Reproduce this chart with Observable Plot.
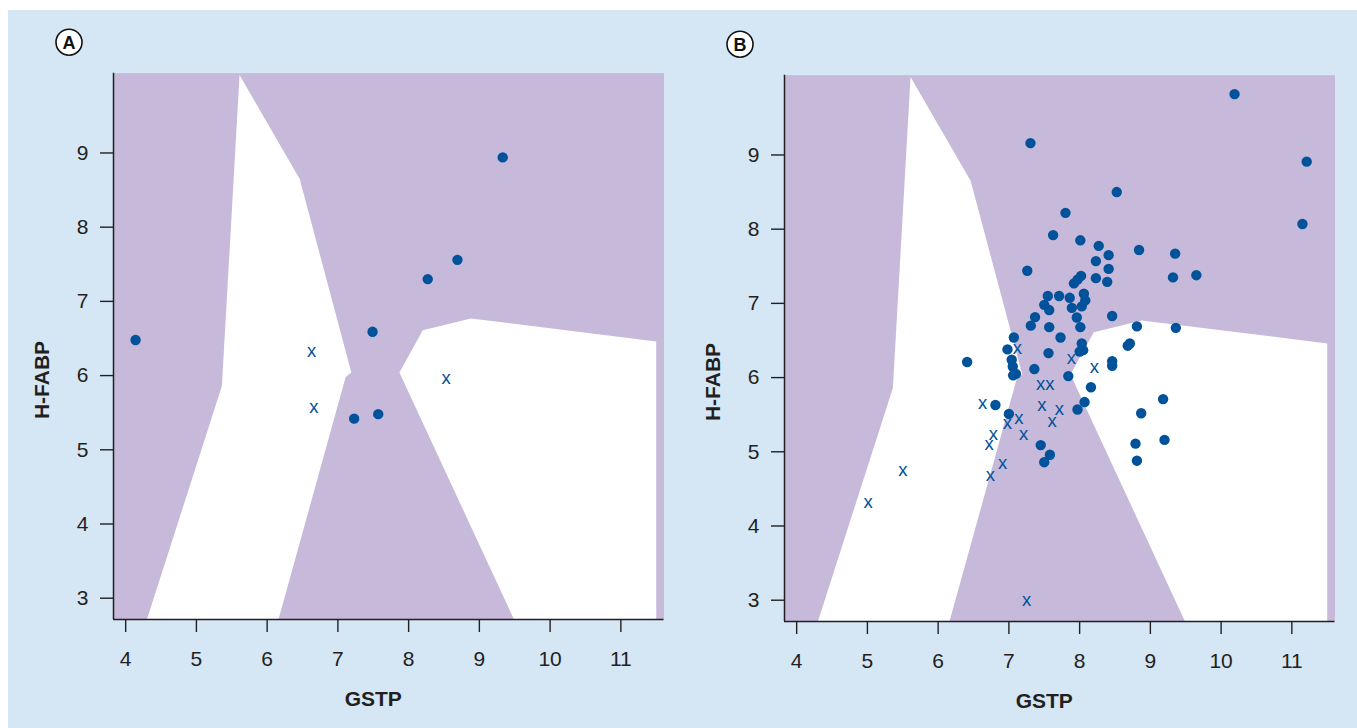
<!DOCTYPE html>
<html>
<head>
<meta charset="utf-8">
<script src="https://cdn.jsdelivr.net/npm/d3@7"></script>
<script src="https://cdn.jsdelivr.net/npm/@observablehq/plot@0.6"></script>
<style>
  html, body { margin: 0; padding: 0; background: #ffffff; }
  #wrap { position: relative; width: 1357px; height: 728px; overflow: hidden; }
  #bg { position: absolute; left: 8px; top: 10px; right: 0; bottom: 0; background: #d5e6f5; }
  #panelA { position: absolute; left: 0px; top: 0px; }
  #panelB { position: absolute; left: 670.6px; top: 2.3px; }
</style>
</head>
<body>
<div id="wrap">
  <div id="bg"></div>
  <div id="panelA"></div>
  <div id="panelB"></div>
</div>
<script>
// ---------- data ----------
const xTicks = [4, 5, 6, 7, 8, 9, 10, 11];
const yTicks = [3, 4, 5, 6, 7, 8, 9];
const xDomain = [3.828, 11.61];
const yDomain = [2.713, 10.075];

// decision-boundary regions (white) inside purple background
const leftRegionX  = [5.61, 6.46, 7.19, 7.11, 6.16, 4.30, 5.36];
const leftRegionY  = [10.05, 8.65, 6.04, 5.98, 2.713, 2.713, 5.86];
const rightRegionX = [8.20, 8.88, 11.50, 11.50, 9.49, 7.87];
const rightRegionY = [6.61, 6.77, 6.46, 2.713, 2.713, 6.04];

// Panel A
const dotsAX  = [4.14, 7.49, 8.27, 8.69, 9.33, 7.23, 7.57];
const dotsAY  = [6.48, 6.59, 7.30, 7.56, 8.94, 5.42, 5.48];
const crossAX = [6.63, 6.66, 8.53];
const crossAY = [6.33, 5.58, 5.96];

// Panel B
const dotsBX = [7.305, 11.21, 8.525, 7.80, 7.625, 8.01, 11.15, 8.27, 8.84, 9.35,
                8.41, 8.23, 7.26, 8.41, 9.32, 9.65, 8.23, 8.39, 8.02, 7.97,
                7.92, 7.55, 7.71, 7.86, 8.06, 8.08, 7.50, 7.57, 7.89, 8.03,
                7.96, 8.46, 7.37, 7.31, 7.57, 8.01, 8.81, 9.36, 7.07, 7.73,
                8.03, 8.68, 8.71, 6.98, 8.00, 8.05, 7.56, 6.41, 7.04, 7.055,
                7.10, 7.06, 7.36, 8.46, 8.46, 7.84, 8.16, 8.07, 7.97, 9.18,
                8.87, 6.81, 7.00, 7.45, 7.58, 7.50, 8.79, 9.20, 8.81, 10.19];
const dotsBY = [9.16, 8.91, 8.50, 8.22, 7.92, 7.85, 8.07, 7.775, 7.72, 7.67,
                7.65, 7.57, 7.44, 7.465, 7.35, 7.38, 7.34, 7.29, 7.37, 7.32,
                7.27, 7.10, 7.10, 7.075, 7.13, 7.04, 6.98, 6.91, 6.94, 6.96,
                6.81, 6.83, 6.815, 6.70, 6.68, 6.68, 6.69, 6.67, 6.54, 6.54,
                6.46, 6.43, 6.46, 6.38, 6.35, 6.37, 6.33, 6.21, 6.24, 6.15,
                6.05, 6.03, 6.115, 6.22, 6.16, 6.02, 5.87, 5.67, 5.57, 5.71,
                5.52, 5.63, 5.51, 5.09, 4.96, 4.86, 5.11, 5.16, 4.88, 9.82];
const crossBX = [7.12, 7.885, 8.21, 7.45, 7.58, 6.63, 7.465, 7.715, 7.61, 7.14,
                 6.98, 7.21, 6.78, 6.72, 6.91, 6.74, 5.50, 5.01, 7.25];
const crossBY = [6.40, 6.26, 6.14, 5.91, 5.91, 5.65, 5.63, 5.57, 5.42, 5.46,
                 5.39, 5.24, 5.24, 5.10, 4.85, 4.68, 4.75, 4.32, 3.00];

const xTitle = "GSTP";
const yTitle = "H-FABP";

// ---------- styles ----------
const purple = "#c7b9da";
const blue = "#00529b";
const ink = "#231f20";
const font = "'Liberation Sans', Arial, Helvetica, sans-serif";

const toPts = (xs, ys) => xs.map((x, i) => ({x, y: ys[i]}));

function panel(letter, dX, dY, cX, cY) {
  const leftRegion = toPts(leftRegionX, leftRegionY);
  const rightRegion = toPts(rightRegionX, rightRegionY);
  const dots = toPts(dX, dY);
  const crosses = toPts(cX, cY);
  const svg = Plot.plot({
    width: 678,
    height: 726,
    marginLeft: 113,
    marginRight: 14.5,
    marginTop: 72.7,
    marginBottom: 107,
    x: {domain: xDomain},
    y: {domain: yDomain},
    style: {background: "transparent", fontFamily: font, color: ink, overflow: "visible"},
    marks: [
      Plot.frame({fill: purple, stroke: "none"}),
      Plot.line(leftRegion, {x: "x", y: "y", fill: "white", stroke: "none", curve: "linear-closed"}),
      Plot.line(rightRegion, {x: "x", y: "y", fill: "white", stroke: "none", curve: "linear-closed"}),
      Plot.ruleX([xDomain[0]], {stroke: ink, strokeWidth: 1.5}),
      Plot.ruleY([yDomain[0]], {stroke: ink, strokeWidth: 1.5}),
      Plot.axisX({ticks: xTicks, tickSize: 13, tickPadding: 19, fontSize: 21, label: null,
                  tickFormat: d => String(d), strokeWidth: 1.4}),
      Plot.axisY({ticks: yTicks, tickSize: 13, tickPadding: 12, fontSize: 21, label: null,
                  tickFormat: d => String(d), strokeWidth: 1.4}),
      Plot.dot(dots, {x: "x", y: "y", r: 5.2, fill: blue, stroke: "none"}),
      Plot.text(crosses, {x: "x", y: "y", text: () => "x", fontSize: 18.5, fill: blue}),
      Plot.text([xTitle], {x: () => 7.5, frameAnchor: "bottom", dy: 80, text: d => d,
                           textAnchor: "middle", lineAnchor: "middle",
                           fontWeight: "bold", fontSize: 21, fill: ink}),
      Plot.text([yTitle], {y: () => 5.94, frameAnchor: "left", dx: -71.5, rotate: -90, text: d => d,
                           textAnchor: "middle", lineAnchor: "middle",
                           fontWeight: "bold", fontSize: 21, fill: ink})
    ]
  });
  const s = d3.select(svg);
  s.append("circle").attr("cx", 69).attr("cy", 42.2).attr("r", 13)
    .attr("fill", "white").attr("stroke", "#111").attr("stroke-width", 1.6);
  s.append("text").attr("x", 69).attr("y", 42.2).attr("dy", "0.36em")
    .attr("text-anchor", "middle").attr("font-family", font).attr("font-weight", "bold")
    .attr("font-size", 18).attr("fill", "#111").text(letter);
  return svg;
}

document.getElementById("panelA").appendChild(panel("A", dotsAX, dotsAY, crossAX, crossAY));
document.getElementById("panelB").appendChild(panel("B", dotsBX, dotsBY, crossBX, crossBY));
</script>
</body>
</html>
